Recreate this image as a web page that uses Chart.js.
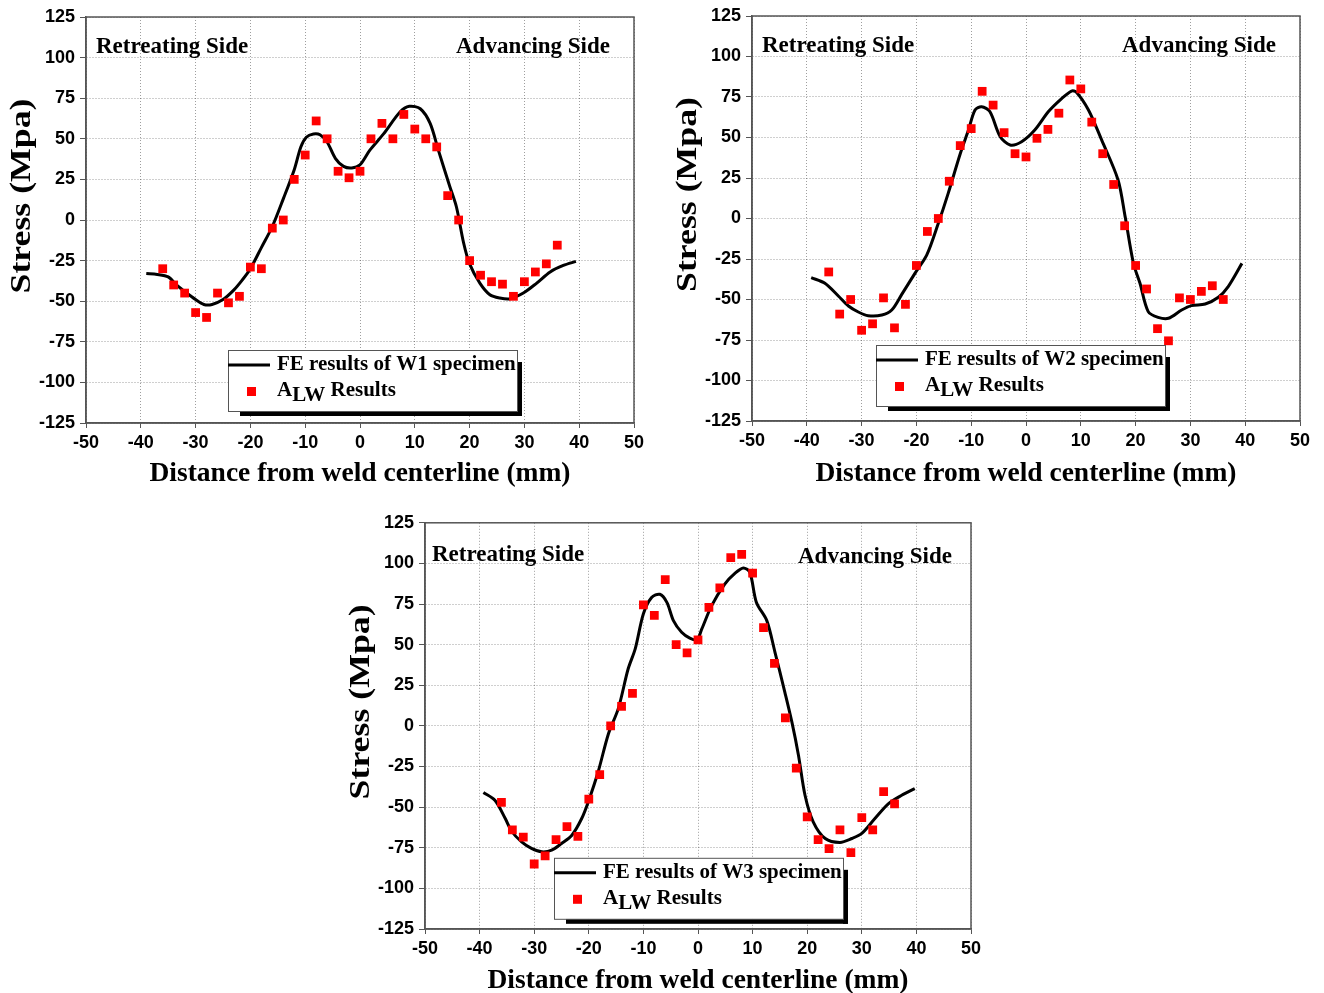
<!DOCTYPE html>
<html>
<head>
<meta charset="utf-8">
<title>Residual stress across the weld - W1, W2, W3</title>
<script src="https://cdn.jsdelivr.net/npm/chart.js@4.4.0/dist/chart.umd.min.js"></script>
<style>
  html, body { margin: 0; padding: 0; background: #fff; overflow: hidden; }
  canvas { position: absolute; }
</style>
</head>
<body>
<canvas id="chartW1" width="660" height="500" style="left:0px;top:0px;width:660px;height:500px"></canvas>
<canvas id="chartW2" width="658" height="500" style="left:666px;top:0px;width:658px;height:500px"></canvas>
<canvas id="chartW3" width="660" height="500" style="left:339px;top:507px;width:660px;height:500px"></canvas>
<script>
// Measured stress (A_LW) positions, mm from weld centerline
const measuredX = [-36, -34, -32, -30, -28, -26, -24, -22, -20, -18, -16, -14, -12, -10, -8, -6, -4, -2,
  0, 2, 4, 6, 8, 10, 12, 14, 16, 18, 20, 22, 24, 26, 28, 30, 32, 34, 36];

const alwW1 = [-30, -40, -45, -57, -60, -45, -51, -47, -29, -30, -5, 0, 25, 40, 61, 50, 30, 26,
  30, 50, 59.5, 50, 65, 56, 50, 45, 15, 0, -25, -34, -38, -39.5, -47, -38, -32, -27, -15.5];
const alwW2 = [-33, -59, -50, -69, -65, -49, -67.5, -53, -29, -8, 0, 23, 45, 55.5, 78.5, 70, 53, 40,
  38, 49.5, 55, 65, 85.5, 80, 59.5, 40, 21, -4.5, -29, -43.5, -68, -75.5, -49, -50, -45, -41.5, -50];
const alwW3 = [-47, -64, -68.5, -85, -80, -70, -62, -68, -45, -30, 0, 12, 20, 74.5, 68, 90, 50, 45,
  53, 73, 85, 103.5, 105.5, 94, 60.5, 38.5, 5, -26, -56, -70, -75.5, -64, -78, -56.5, -64, -40.5, -48];

// FE curves
const feXW1 = [-39, -37, -35, -33.5, -32, -30, -28.5, -27, -25, -23, -21.5, -20, -18, -16, -14, -12, -10.8,
  -9.8, -8.5, -7.3, -6, -4.5, -3, -1.5, 0, 1.8, 4.3, 7.3, 9, 11, 12.8, 14.3, 16.4, 17.6, 18.9, 20, 21.9,
  23.7, 25.5, 27.4, 29.8, 32.2, 34.7, 37.1, 39.4];
const feYW1 = [-33, -33.5, -35, -40, -44, -49, -52, -52, -49, -43, -37, -30, -17, -4, 13, 31, 45,
  51, 53, 52.5, 48, 38, 33, 32, 34, 43, 53, 66.5, 70, 68.5, 59.5, 43, 20.5, 8, -14, -27, -39,
  -46, -48, -48.5, -45, -39, -32, -28, -25.5];

const feXW2 = [-39.2, -36.7, -34.2, -32.4, -30.6, -28.8, -26.3, -24.5, -22.7, -20.3, -18.1, -16, -14.2, -12,
  -10.5, -9.3, -8.1, -6.6, -4.7, -2.9, -0.8, 1.6, 4.1, 6.5, 8.3, 9.2, 11.4, 13.8, 16.8, 18.1, 19.6, 20.8,
  22.3, 24.1, 26, 28.4, 30.2, 32.7, 35.1, 36.9, 39.4];
const feYW2 = [-36.5, -40, -48, -54, -57.7, -60, -59.6, -56.5, -47, -34, -22.5, -3, 15.5, 40,
  54.6, 67, 69, 66, 50.5, 45.4, 47.4, 54.6, 66, 74, 78.7, 78, 67, 48.5, 23.8, 1, -27.6, -40,
  -57.5, -61, -61.6, -56.5, -53.8, -52.8, -48.6, -42, -27.7];

const feXW3 = [-39.3, -37.2, -35.3, -34.1, -32.3, -30.5, -28.6, -26.8, -25, -23.1, -21.3, -20.1, -18.3, -16.4,
  -14.6, -12.8, -11.5, -10, -8.5, -7, -5.7, -4.5, -3, -1.5, -0.2, 0.7, 2.5, 4.9, 6.8, 8.3, 9.5, 10.7, 12.6,
  14.1, 15.9, 17.2, 18.4, 19.6, 21.1, 23.3, 26, 28.2, 30, 32.4, 34.9, 37.3, 39.7];
const feYW3 = [-41, -45.8, -57, -65, -71.4, -75.4, -77.5, -76.5, -72.4, -67.3, -57, -46.8, -28.4, -4.8,
  10.6, 35, 47.4, 69, 79, 81, 76, 64.8, 57.6, 54, 53, 59.7, 74, 87.3, 94, 97.2, 94.5, 76, 64.8,
  45.3, 20.8, 2.3, -18, -42.7, -59, -69.3, -71.7, -69.3, -66.2, -57, -47.8, -42.7, -38.6];

const specimenNames = ['W1', 'W2', 'W3'];
const pointLabelParts = ['A', 'LW', ' Results'];
const sideLabels = ['Retreating Side', 'Advancing Side'];
const xAxisTitle = 'Distance from weld centerline (mm)';
const yAxisTitle = 'Stress (Mpa)';

const serif = '"Liberation Serif", "Times New Roman", serif';
const sans = '"Liberation Sans", Arial, sans-serif';

function toPoints(xs, ys) {
  return xs.map((x, i) => ({ x: x, y: ys[i] }));
}

// frame, side labels, stretched y title and boxed legend
const decorPlugin = {
  id: 'panelDecor',
  beforeDatasetsDraw(chart) {
    const { ctx, chartArea: a } = chart;
    ctx.save();
    ctx.strokeStyle = '#555';
    ctx.lineWidth = 1.5;
    ctx.strokeRect(a.left, a.top, a.right - a.left, a.bottom - a.top);
    ctx.restore();
  },
  afterDraw(chart, args, opts) {
    const { ctx, chartArea: a } = chart;
    ctx.save();
    ctx.fillStyle = '#000';
    ctx.textBaseline = 'middle';
    ctx.font = 'bold 23px ' + serif;
    ctx.textAlign = 'left';
    ctx.fillText(sideLabels[0], a.left + opts.leftText[0], a.top + opts.leftText[1]);
    ctx.textAlign = 'right';
    ctx.fillText(sideLabels[1], a.right - opts.rightText[0], a.top + opts.rightText[1]);

    // y title (the original is drawn stretched along its length)
    ctx.save();
    ctx.translate(a.left - 63, (a.top + a.bottom) / 2 - 24);
    ctx.rotate(-Math.PI / 2);
    ctx.font = 'bold 29px ' + serif;
    const tw = ctx.measureText(yAxisTitle).width;
    ctx.scale(195 / tw, 1);
    ctx.textAlign = 'center';
    ctx.fillText(yAxisTitle, 0, 0);
    ctx.restore();

    // legend box
    const lx = a.left + opts.legendAt[0];
    const ly = a.top + opts.legendAt[1];
    const w = 289, h = 61;
    ctx.fillStyle = '#000';
    ctx.fillRect(lx + 12, ly + h, w - 7, 5);
    ctx.fillRect(lx + w, ly + 12, 5, h - 7);
    ctx.fillStyle = '#fff';
    ctx.fillRect(lx, ly, w, h);
    ctx.strokeStyle = '#555';
    ctx.lineWidth = 1;
    ctx.strokeRect(lx + 0.5, ly + 0.5, w, h);

    const ds = chart.data.datasets;
    ctx.strokeStyle = ds[0].borderColor;
    ctx.lineWidth = 3;
    ctx.beginPath();
    ctx.moveTo(lx, ly + 15);
    ctx.lineTo(lx + 42, ly + 15);
    ctx.stroke();
    ctx.fillStyle = '#000';
    ctx.textAlign = 'left';
    ctx.font = 'bold 21px ' + serif;
    ctx.fillText(ds[0].label, lx + 49, ly + 15);

    ctx.fillStyle = ds[1].backgroundColor;
    ctx.fillRect(lx + 19, ly + 37, 9, 9);
    ctx.fillStyle = '#000';
    let tx = lx + 49;
    ctx.fillText(pointLabelParts[0], tx, ly + 41);
    tx += ctx.measureText(pointLabelParts[0]).width;
    ctx.fillText(pointLabelParts[1], tx, ly + 46);
    tx += ctx.measureText(pointLabelParts[1]).width;
    ctx.fillText(pointLabelParts[2], tx, ly + 41);
    ctx.restore();
  }
};

function makePanel(canvasId, idx, feX, feY, alw, layout) {
  const ctx = document.getElementById(canvasId).getContext('2d');
  return new Chart(ctx, {
    type: 'scatter',
    data: {
      datasets: [{
        label: 'FE results of ' + specimenNames[idx] + ' specimen',
        data: toPoints(feX, feY),
        showLine: true,
        borderColor: '#000',
        borderWidth: 3,
        tension: 0.3,
        pointRadius: 0,
        order: 2
      }, {
        label: pointLabelParts.join(''),
        data: toPoints(measuredX, alw),
        showLine: false,
        pointStyle: 'rect',
        pointRadius: 6.2,
        backgroundColor: '#ff0000',
        borderWidth: 0,
        order: 1
      }]
    },
    options: {
      responsive: false,
      animation: false,
      devicePixelRatio: 1,
      layout: { padding: { top: layout.padTop, right: layout.padRight, left: 0, bottom: 0 } },
      scales: {
        x: {
          type: 'linear',
          min: -50,
          max: 50,
          afterFit(scale) { scale.height = layout.xAxisH; },
          ticks: {
            stepSize: 10,
            color: '#000',
            padding: 4,
            maxRotation: 0,
            font: { family: sans, size: 18, weight: 'bold' }
          },
          grid: { color: 'rgba(0,0,0,0.38)', lineWidth: 1, tickLength: 5, tickColor: '#555' },
          border: { color: '#555', width: 1.5, dash: [1, 2] },
          title: {
            display: true,
            text: xAxisTitle,
            color: '#000',
            padding: { top: 0, bottom: 9.5 },
            font: { family: serif, size: 27.5, weight: 'bold' }
          }
        },
        y: {
          min: -125,
          max: 125,
          afterFit(scale) { scale.width = 86; },
          ticks: {
            stepSize: 25,
            color: '#000',
            padding: 5,
            font: { family: sans, size: 18, weight: 'bold' }
          },
          grid: { color: 'rgba(0,0,0,0.38)', lineWidth: 1, tickLength: 6, tickColor: '#555' },
          border: { color: '#555', width: 1.5, dash: [1, 2] },
          title: { display: false }
        }
      },
      plugins: {
        legend: { display: false },
        tooltip: { enabled: false },
        panelDecor: {
          legendAt: layout.legendAt,
          leftText: layout.leftText,
          rightText: layout.rightText
        }
      }
    },
    plugins: [decorPlugin]
  });
}

makePanel('chartW1', 0, feXW1, feYW1, alwW1,
  { padTop: 17, padRight: 26, xAxisH: 77, legendAt: [142, 333], leftText: [10, 30], rightText: [24, 30] });
makePanel('chartW2', 1, feXW2, feYW2, alwW2,
  { padTop: 16, padRight: 24, xAxisH: 79, legendAt: [124, 329], leftText: [10, 30], rightText: [24, 30] });
makePanel('chartW3', 2, feXW3, feYW3, alwW3,
  { padTop: 15, padRight: 28, xAxisH: 78, legendAt: [129, 335], leftText: [7, 32], rightText: [19, 34] });
</script>
</body>
</html>
